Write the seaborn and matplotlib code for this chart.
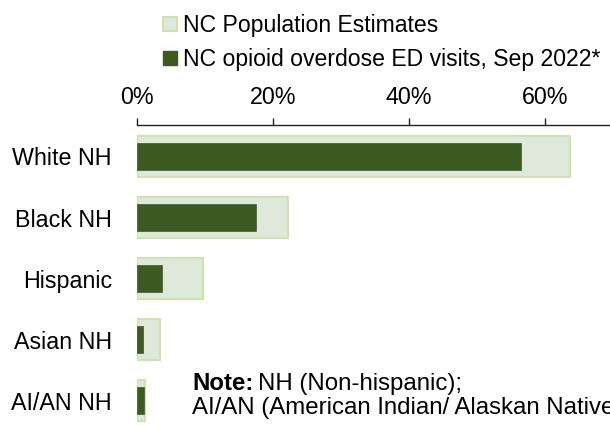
import pandas as pd
import matplotlib.pyplot as plt
import seaborn as sns
from matplotlib.patches import Patch

# Data (percent)
groups = ["White NH", "Black NH", "Hispanic", "Asian NH", "AI/AN NH"]
population = [63.7, 22.3, 9.8, 3.4, 1.2]
ed_visits = [56.4, 17.5, 3.7, 1.0, 1.1]
xticks = [0, 20, 40, 60]
xtick_labels = ["0%", "20%", "40%", "60%"]

pop_label = "NC Population Estimates"
ed_label = "NC opioid overdose ED visits, Sep 2022*"

dark_green = "#3e5a23"
light_fill = "#dfe9db"
light_edge = "#cfe3b2"

df = pd.DataFrame({"group": groups, "pop": population, "ed": ed_visits})

sns.set_style("white")
plt.rcParams["font.family"] = ["Liberation Sans", "DejaVu Sans"]
plt.rcParams["text.color"] = "black"
plt.rcParams["xtick.color"] = "black"
plt.rcParams["ytick.color"] = "black"

fs = 16.75

fig = plt.figure(figsize=(6.1, 4.25), dpi=100)
ax = fig.add_axes([136.5 / 610, 0, 476.7 / 610, 300 / 425])

sns.barplot(data=df, x="pop", y="group", orient="h", color=light_fill,
            edgecolor=light_edge, linewidth=1.5, width=0.67, saturation=1, ax=ax)
sns.barplot(data=df, x="ed", y="group", orient="h", color=dark_green,
            edgecolor=dark_green, linewidth=0.5, width=0.43, saturation=1, ax=ax)

ax.set_xlim(0, 70)
ax.set_ylim(4.40, -0.516)
ax.set_xlabel("")
ax.set_ylabel("")

ax.xaxis.tick_top()
ax.set_xticks(xticks)
ax.set_xticklabels(xtick_labels)
ax.tick_params(axis="x", top=True, direction="out", length=5, width=1,
               color="#222222", labelsize=fs, pad=6.5)
ax.tick_params(axis="y", left=False, length=0, labelsize=fs, pad=17.8)

for side in ["left", "right", "bottom"]:
    ax.spines[side].set_visible(False)
ax.spines["top"].set_color("#222222")
ax.spines["top"].set_linewidth(1)

handles = [Patch(facecolor=light_fill, edgecolor=light_edge, linewidth=1.5),
           Patch(facecolor=dark_green, edgecolor=dark_green)]
fig.legend(handles, [pop_label, ed_label], loc="upper left",
           bbox_to_anchor=(163 / 610, 1 - 14 / 425), frameon=False,
           fontsize=16.6, handlelength=0.6, handleheight=0.6,
           handletextpad=0.25, labelspacing=0.48, borderpad=0, borderaxespad=0)

# Note, bold label followed by regular text (second line runs past the edge, as in the original)
nfs = 17.3
note = fig.text(192 / 610, 1 - 384 / 425, "Note:", fontsize=nfs,
                fontweight="bold", va="center", ha="left")
fig.canvas.draw()
bb = note.get_window_extent()
fig.text(bb.x1 / 610 + 5 / 610, 1 - 384 / 425, "NH (Non-hispanic);",
         fontsize=nfs, va="center", ha="left")
fig.text(192 / 610, 1 - 408 / 425, "AI/AN (American Indian/ Alaskan Native)",
         fontsize=nfs, va="center", ha="left")

fig.savefig("out.png", dpi=100)
